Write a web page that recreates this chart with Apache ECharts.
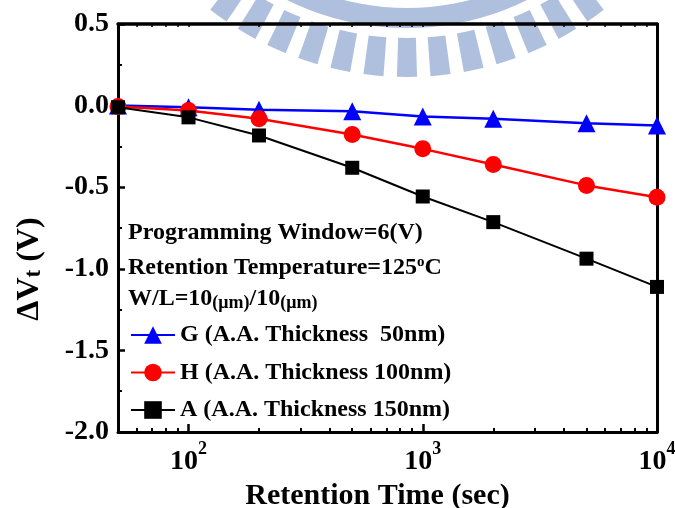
<!DOCTYPE html>
<html>
<head>
<meta charset="utf-8">
<script src="https://cdn.jsdelivr.net/npm/echarts@6.0.0/dist/echarts.min.js"></script>
<style>
  html, body { margin: 0; padding: 0; background: #fff; }
  #chart { width: 675px; height: 508px; }
</style>
</head>
<body>
<div id="chart"></div>
<script>
// Retention time (sec) at which the threshold shift was measured
const times = [50, 100, 200, 500, 1000, 2000, 5000, 10000];

// Threshold-voltage shift ΔVt (V) for each active-area thickness
const shiftG = [0.0, -0.01, -0.026, -0.035, -0.067, -0.081, -0.108, -0.122];
const shiftH = [-0.006, -0.03, -0.081, -0.177, -0.265, -0.361, -0.489, -0.561];
const shiftA = [-0.01, -0.072, -0.183, -0.381, -0.557, -0.714, -0.938, -1.111];

const seriesNames = [
  'G (A.A. Thickness  50nm)',
  'H (A.A. Thickness 100nm)',
  'A (A.A. Thickness 150nm)'
];

// Axis ticks
const xLabelValues = [100, 1000, 10000];
const xMinorTicks = [60, 70, 80, 90, 200, 300, 400, 500, 600, 700, 800, 900,
                     2000, 3000, 4000, 5000, 6000, 7000, 8000, 9000];
const yMin = -2.0, yMax = 0.5, yStep = 0.5;

// Condition notes written inside the plot
const notes = [
  'Programming Window=6(V)',
  'Retention Temperature=125{sup|o}C',
  'W/L=10{small|(μm)}/10{small|(μm)}'
];

const FONT = '"Liberation Serif", "Times New Roman", serif';
const WM = '#afc0de';

// Faint emblem behind the plot: an arc band with radial bars
function emblem() {
  const cx = 407, cy = -244;
  const deg = Math.PI / 180;
  const parts = [{
    type: 'sector', z: -10, silent: true,
    shape: { cx, cy, r0: 252, r: 272, startAngle: (90 - 42) * deg, endAngle: (90 + 42) * deg, clockwise: true },
    style: { fill: WM }
  }];
  for (let a = -36; a <= 36; a += 6) {
    const phi = 90 - a;
    parts.push({
      type: 'sector', z: -10, silent: true,
      shape: { cx, cy, r0: 282, r: 321, startAngle: (phi - 1.8) * deg, endAngle: (phi + 1.8) * deg, clockwise: true },
      style: { fill: WM }
    });
  }
  return parts;
}

const chart = echarts.init(document.getElementById('chart'), null, { renderer: 'canvas' });

const lineSpec = [
  { data: shiftG, symbol: 'triangle', size: 18, color: '#0000ff', width: 2.5 },
  { data: shiftH, symbol: 'circle', size: 17, color: '#ff0000', width: 2.5 },
  { data: shiftA, symbol: 'rect', size: 14, color: '#000000', width: 2 }
];

const series = lineSpec.map((s, k) => ({
  name: seriesNames[k],
  type: 'line',
  xAxisIndex: 0,
  yAxisIndex: 0,
  data: times.map((t, i) => [t, s.data[i]]),
  symbol: s.symbol,
  symbolSize: s.size,
  showAllSymbol: true,
  clip: false,
  lineStyle: { color: s.color, width: s.width },
  itemStyle: { color: s.color },
  emphasis: { disabled: true },
  z: 3 + k
}));

const baseLog = { type: 'log', logBase: 10, min: 50, max: 10000, splitLine: { show: false } };

const option = {
  animation: false,
  backgroundColor: '#ffffff',
  grid: { left: 118, right: 18, top: 24, bottom: 76, containLabel: false, outerBoundsMode: 'none' },
  xAxis: [
    Object.assign({}, baseLog, {
      position: 'bottom',
      axisLine: { show: true, onZero: false, lineStyle: { color: '#000', width: 3 } },
      axisTick: { show: true, inside: true, length: 4, customValues: xMinorTicks, lineStyle: { color: '#000', width: 2 } },
      axisLabel: {
        customValues: xLabelValues,
        margin: 8,
        formatter: v => '{b|10}{sup|' + Math.round(Math.log10(v)) + '}',
        rich: {
          b: { fontFamily: FONT, fontWeight: 'bold', fontSize: 28, color: '#000', lineHeight: 36, verticalAlign: 'bottom' },
          sup: { fontFamily: FONT, fontWeight: 'bold', fontSize: 18, color: '#000', lineHeight: 18, verticalAlign: 'top' }
        }
      },
      name: 'Retention Time (sec)',
      nameLocation: 'middle',
      nameGap: 41,
      nameTextStyle: { fontFamily: FONT, fontWeight: 'bold', fontSize: 30, color: '#000', padding: [0, 20, 0, 0] }
    }),
    Object.assign({}, baseLog, {
      position: 'bottom',
      axisLine: { show: false, onZero: false },
      axisTick: { show: true, inside: true, length: 8, customValues: xLabelValues, lineStyle: { color: '#000', width: 2.5 } },
      axisLabel: { show: false }
    }),
    Object.assign({}, baseLog, {
      position: 'top',
      axisLine: { show: true, onZero: false, lineStyle: { color: '#000', width: 3.5 } },
      axisTick: { show: true, inside: true, length: 3, customValues: xMinorTicks.concat(xLabelValues), lineStyle: { color: '#000', width: 1.5 } },
      axisLabel: { show: false }
    })
  ],
  yAxis: [
    {
      type: 'value', min: yMin, max: yMax, interval: yStep, position: 'left',
      axisLine: { show: true, onZero: false, lineStyle: { color: '#000', width: 3 } },
      axisTick: { show: true, inside: true, length: 7, lineStyle: { color: '#000', width: 2.5 } },
      minorTick: { show: true, splitNumber: 2, length: 4, lineStyle: { color: '#000', width: 2 } },
      splitLine: { show: false },
      axisLabel: { formatter: v => v.toFixed(1), fontFamily: FONT, fontWeight: 'bold', fontSize: 28, color: '#000', margin: 9 }
    },
    {
      type: 'value', min: yMin, max: yMax, interval: yStep, position: 'right',
      axisLine: { show: true, onZero: false, lineStyle: { color: '#000', width: 3 } },
      axisTick: { show: false },
      axisLabel: { show: false },
      splitLine: { show: false }
    }
  ],
  legend: {
    data: seriesNames,
    orient: 'vertical',
    left: 125,
    top: 318,
    itemWidth: 44,
    itemHeight: 22,
    itemGap: 13.5,
    selectedMode: false,
    textStyle: { fontFamily: FONT, fontWeight: 'bold', fontSize: 24, lineHeight: 24, color: '#000' }
  },
  graphic: emblem().concat([
    {
      type: 'text', x: 30, y: 269, rotation: Math.PI / 2, silent: true,
      style: {
        text: 'ΔV{sub|t} (V)',
        fill: '#000', fontFamily: FONT, fontWeight: 'bold', fontSize: 32, lineHeight: 32,
        align: 'center', verticalAlign: 'middle',
        rich: { sub: { fill: '#000', fontFamily: FONT, fontWeight: 'bold', fontSize: 23, lineHeight: 12, verticalAlign: 'bottom' } }
      }
    }
  ]).concat(notes.map((t, i) => ({
    type: 'text', x: 128, y: [233, 268, 299][i], silent: true,
    style: {
      text: t,
      fill: '#000', fontFamily: FONT, fontWeight: 'bold', fontSize: 24, lineHeight: 26,
      align: 'left', verticalAlign: 'middle',
      rich: {
        sup: { fill: '#000', fontFamily: FONT, fontWeight: 'bold', fontSize: 15, lineHeight: 15, verticalAlign: 'top' },
        small: { fill: '#000', fontFamily: FONT, fontWeight: 'bold', fontSize: 18, lineHeight: 22, verticalAlign: 'bottom' }
      }
    }
  }))),
  series: series
};

chart.setOption(option);
</script>
</body>
</html>
